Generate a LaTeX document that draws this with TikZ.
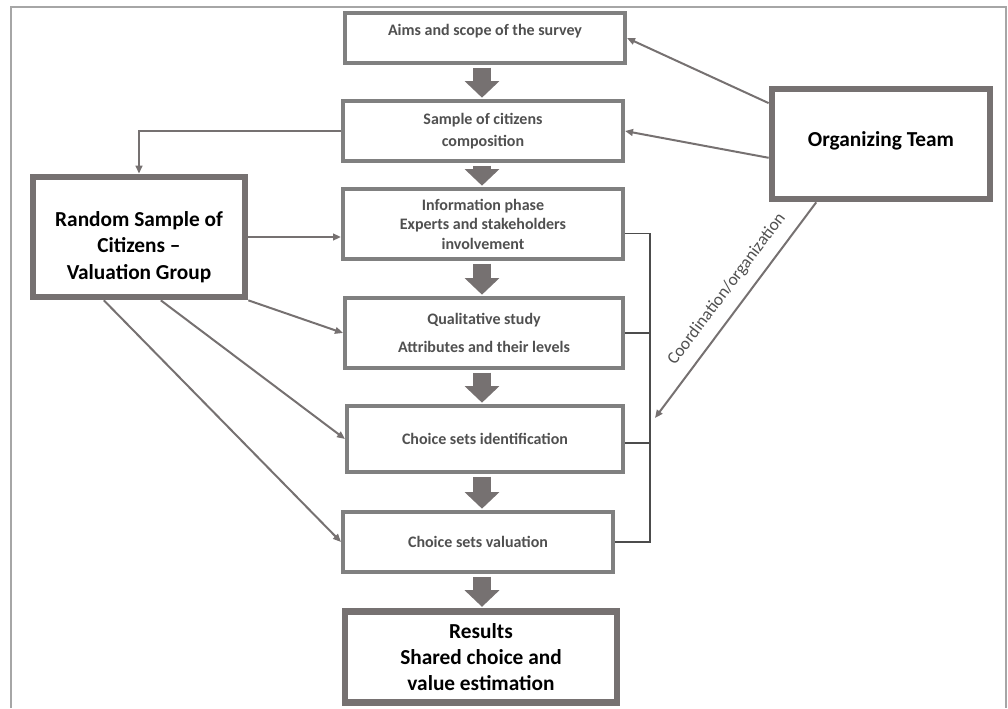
\documentclass[tikz,border=0pt]{standalone}
\usepackage{fontspec}
\setmainfont{Carlito}
\usetikzlibrary{shapes,arrows.meta}

\definecolor{framegray}{HTML}{A6A6A6}
\definecolor{boxgray}{HTML}{808080}
\definecolor{linegray}{HTML}{767171}
\definecolor{textgray}{HTML}{505050}

\begin{document}
\begin{tikzpicture}[x=0.75pt,y=-0.75pt,
  stepbox/.style={draw=boxgray,line width=3pt,fill=white,text=textgray,
    font=\bfseries\fontsize{12}{14.6}\selectfont,align=center,inner sep=0pt},
  mainbox/.style={draw=linegray,line width=5pt,fill=white,text=black,
    font=\bfseries\fontsize{16}{20}\selectfont,align=center,inner sep=0pt},
  link/.style={draw=linegray,line width=1.5pt,-{Triangle[length=6pt,width=5pt]}},
  flow/.style={draw=linegray,line width=14pt,-{Triangle[length=12.5pt,width=25.5pt]},
    shorten <=2pt,shorten >=1pt},
  bracket/.style={draw=black!70,line width=0.8pt}]
\useasboundingbox (0,0) rectangle (1008,708);
\draw[framegray,line width=1.5pt] (11,708) -- (11,7) -- (1006,7) -- (1006,708);

% steps of the survey
\node[stepbox,minimum width=210pt,minimum height=37.5pt,text depth=12pt] (aims) at (485,38) {Aims and scope of the survey};
\node[stepbox,minimum width=210pt,minimum height=45pt] (sample) at (483,131) {Sample of citizens\\[2pt]composition};
\node[stepbox,minimum width=210pt,minimum height=52.5pt] (info) at (483,224) {Information phase\\Experts and stakeholders\\involvement};
\node[stepbox,minimum width=208.5pt,minimum height=52.5pt] (qual) at (484,333) {Qualitative study\\[6pt]Attributes and their levels};
\node[stepbox,minimum width=207pt,minimum height=49.5pt] (choiceid) at (485,439) {Choice sets identification};
\node[stepbox,minimum width=202.5pt,minimum height=45pt] (valuation) at (478,542) {Choice sets valuation};
\node[mainbox,minimum width=204pt,minimum height=68.25pt,font=\bfseries\fontsize{16}{19.5}\selectfont] (results) at (481,657) {Results\\Shared choice and\\value estimation};

% actors
\node[mainbox,minimum width=159pt,minimum height=90pt,text height=66.5pt] (random) at (139,237) {Random Sample of\\Citizens --\\Valuation Group};
\node[mainbox,minimum width=163.5pt,minimum height=82.5pt,text depth=8pt] (org) at (881,144) {Organizing Team};

\coordinate (spine) at (482,0);
\coordinate (rail) at (650,0);
\coordinate (coordend) at (655,418);

\draw[flow] (aims.south -| spine) -- (sample.north -| spine);
\draw[flow] (sample.south -| spine) -- (info.north -| spine);
\draw[flow] (info.south -| spine) -- (qual.north -| spine);
\draw[flow] (qual.south -| spine) -- (choiceid.north -| spine);
\draw[flow] (choiceid.south -| spine) -- (valuation.north -| spine);
\draw[flow] (valuation.south -| spine) -- (results.north -| spine);

\path[every edge/.style={link}]
  (org.160) edge (aims.east)
  (org.187) edge (sample.east)
  (random.east) edge (random.east -| info.west)
  (random.south east) edge (qual.west)
  (random.289) edge (choiceid.west)
  (random.241) edge (valuation.west)
;
\draw[link] (sample.west) -| (random.north);
\draw[link] (org.222) -- node[pos=0.457,sloped,above=5pt,text=textgray,
  font=\fontsize{13}{15}\selectfont] {Coordination/organization} (coordend);

% bracket of the steps run with the group
\draw[bracket] ([yshift=-7pt]info.east) -| (rail |- valuation.east) -- (valuation.east);
\draw[bracket] (qual.east) -- (qual.east -| rail);
\draw[bracket] ([yshift=-3pt]choiceid.east) -- ([yshift=-3pt]choiceid.east -| rail);
\end{tikzpicture}
\end{document}
